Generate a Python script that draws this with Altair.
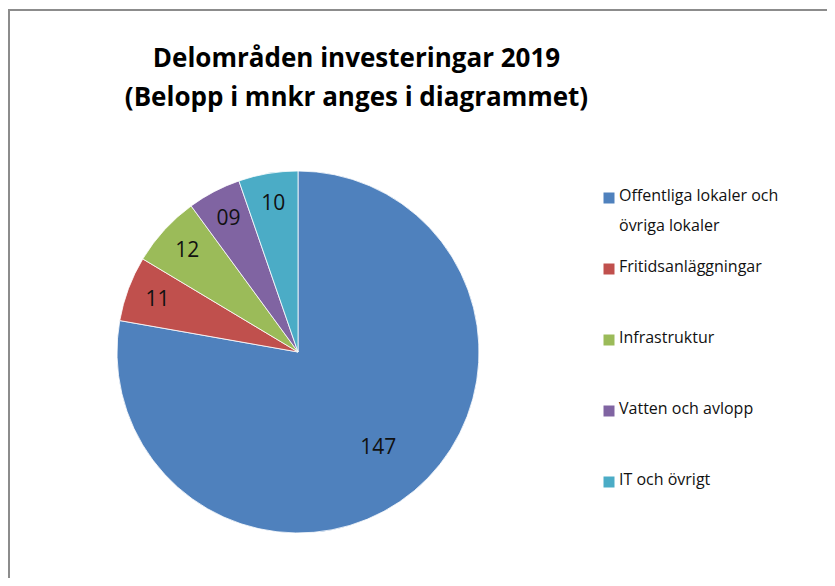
import altair as alt
import pandas as pd

categories = [
    "Offentliga lokaler och övriga lokaler",
    "Fritidsanläggningar",
    "Infrastruktur",
    "Vatten och avlopp",
    "IT och övrigt",
]
legend_labels = [
    "Offentliga lokaler och\növriga lokaler",
    "Fritidsanläggningar",
    "Infrastruktur",
    "Vatten och avlopp",
    "IT och övrigt",
]
values = [147, 11, 12, 9, 10]
colors = ["#4F81BD", "#C0504D", "#9BBB59", "#8064A2", "#4BACC6"]
title_lines = ["Delområden investeringar 2019", "(Belopp i mnkr anges i diagrammet)"]

df = pd.DataFrame({
    "cat": categories,
    "label": legend_labels,
    "value": values,
    "order": list(range(len(categories))),
})

FONT = "Open Sans"
W, H = 819, 570
CX, CY, R = 290, 344, 181

base = alt.Chart(df)
color = alt.Color("cat:N", scale=alt.Scale(domain=categories, range=colors), legend=None)
theta = alt.Theta("value:Q", stack=True)
order = alt.Order("order:Q")

pie = base.mark_arc(outerRadius=R, stroke="white", strokeWidth=0.8).encode(
    theta=theta, color=color, order=order,
    x=alt.value(CX), y=alt.value(CY),
)

slice_labels = base.mark_text(
    font=FONT, fontSize=21, color="#111111",
    radius=alt.expr("datum.value > 100 ? 125 : 150"),
).encode(
    theta=theta, order=order,
    text=alt.Text("value:Q", format="02d"),
    x=alt.value(CX), y=alt.value(CY),
)

leg_y = alt.Y(
    "cat:N",
    scale=alt.Scale(type="point", domain=categories, range=[190, 474], padding=0),
    axis=None,
)
leg_sym = base.mark_square(size=121, opacity=1).encode(
    x=alt.value(601), y=leg_y, color=color,
)
leg_txt = base.mark_text(
    font=FONT, fontSize=16, color="#111111", align="left", baseline="top",
    dy=-10, lineBreak="\n", lineHeight=30,
).encode(
    x=alt.value(611), y=leg_y, text="label:N",
)

border_top = base.mark_rule(color="#8c8c8c", strokeWidth=2).encode(
    x=alt.value(0), x2=alt.value(W), y=alt.value(2)
)
border_left = base.mark_rule(color="#8c8c8c", strokeWidth=2).encode(
    x=alt.value(1), y=alt.value(2), y2=alt.value(H)
)

chart = alt.layer(border_top, border_left, pie, slice_labels, leg_sym, leg_txt).properties(
    width=W, height=H,
    autosize=alt.AutoSizeParams(type="none"),
    padding=0,
    title=alt.TitleParams(
        text=title_lines, font=FONT, fontSize=26, fontWeight="bold", color="#000000",
        anchor="middle", frame="group", baseline="top", offset=0, dx=-61, dy=103,
        lineHeight=39,
    ),
).configure_view(stroke=None)

chart.save("out.html", embed_options={"renderer": "svg", "actions": False})
